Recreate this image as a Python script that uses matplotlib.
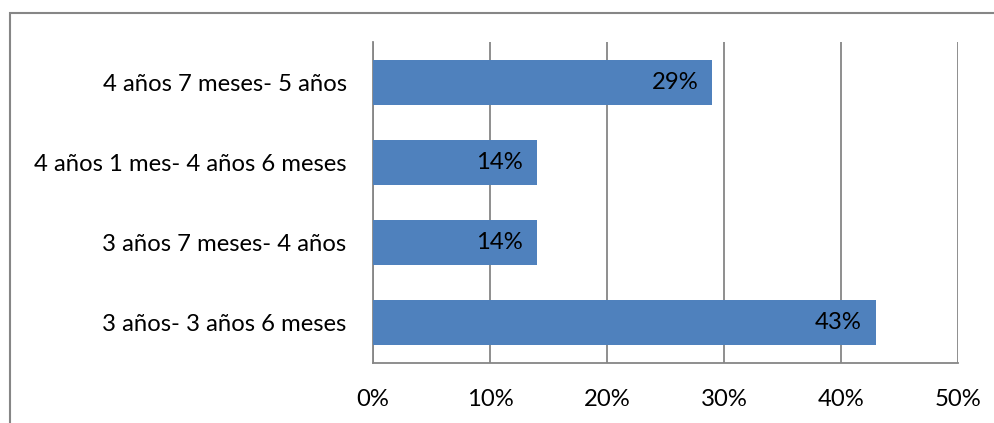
import matplotlib.pyplot as plt
from matplotlib.patches import Rectangle

categories = ["3 años- 3 años 6 meses", "3 años 7 meses- 4 años",
              "4 años 1 mes- 4 años 6 meses", "4 años 7 meses- 5 años"]
values = [43, 14, 14, 29]
ticks = [0, 10, 20, 30, 40, 50]
tick_labels = ["0%", "10%", "20%", "30%", "40%", "50%"]

plt.rcParams['font.family'] = ['Lato', 'DejaVu Sans']
FS = 17.2

fig = plt.figure(figsize=(9.95, 4.23), dpi=100)
W, H = 995, 423
ax = fig.add_axes([373 / W, 1 - 363 / H, (958 - 373) / W, (363 - 42) / H])

# outer chart border (clipped by image edges on right/bottom)
fig.patches.append(Rectangle((10.5 / W, -0.1), 1.2, 1 - 13.5 / H + 0.1,
                             transform=fig.transFigure, fill=False,
                             edgecolor='#868686', linewidth=1.5))

ypos = range(len(categories))
bars = ax.barh(ypos, values, height=0.56, color='#4F81BD', zorder=3)
for y, v in zip(ypos, values):
    ax.text(v - 1.2, y, f"{v}%", ha='right', va='center', fontsize=FS,
            color='black', zorder=4)

ax.set_xlim(0, 50)
ax.set_ylim(-0.5, len(categories) - 0.5)
ax.set_xticks(ticks)
ax.set_xticklabels(tick_labels, fontsize=FS)
ax.set_yticks(list(ypos))
ax.set_yticklabels(categories, fontsize=FS)
ax.tick_params(axis='x', length=0, pad=19)
ax.tick_params(axis='y', length=0, pad=19)

ax.grid(axis='x', color='#868686', linewidth=1.3, zorder=0)
for s in ['top', 'right']:
    ax.spines[s].set_visible(False)
for s in ['left', 'bottom']:
    ax.spines[s].set_color('#868686')
    ax.spines[s].set_linewidth(1.3)

fig.savefig("out.png", dpi=100)
